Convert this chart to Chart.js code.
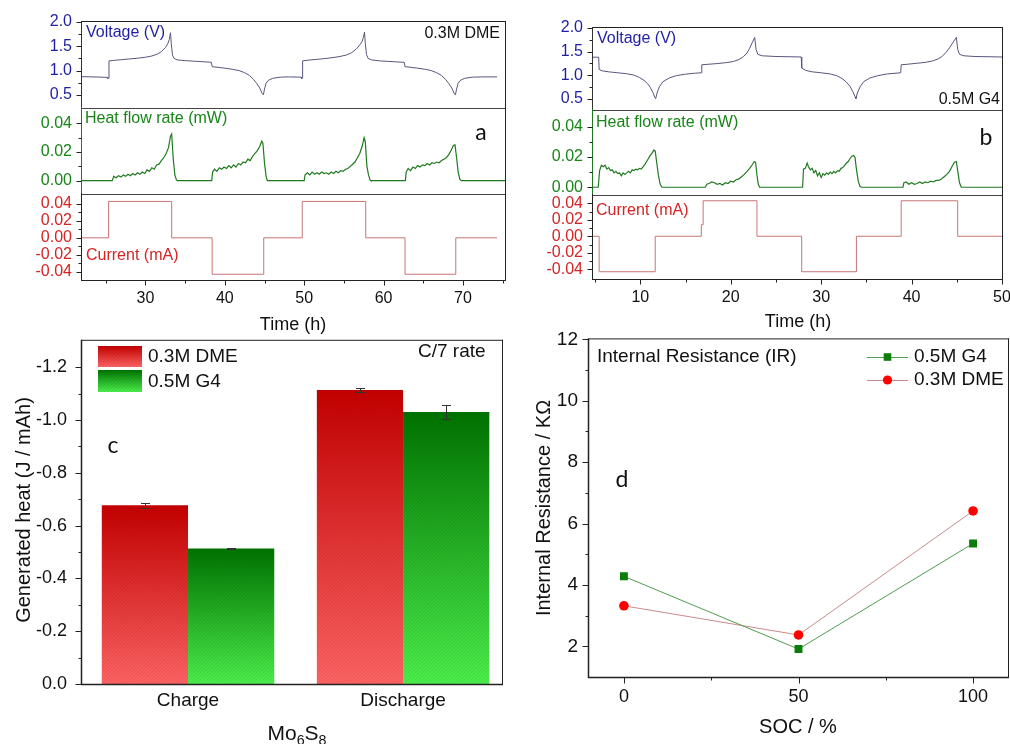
<!DOCTYPE html>
<html><head><meta charset="utf-8">
<title>Mo6S8 calorimetry</title>
<script src="https://cdn.jsdelivr.net/npm/chart.js@4.4.1/dist/chart.umd.min.js"></script>
<style>
html,body{margin:0;padding:0;background:#fff}
body{width:1010px;height:744px;overflow:hidden;position:relative}
canvas{position:absolute;display:block}
</style></head>
<body>
<canvas id="aV"></canvas><canvas id="aH"></canvas><canvas id="aI"></canvas>
<canvas id="bV"></canvas><canvas id="bH"></canvas><canvas id="bI"></canvas>
<canvas id="cBar"></canvas><canvas id="dIR"></canvas>
<script>
// ================= DATA =================
const timeTicksA = [30, 40, 50, 60, 70];
const timeMinorA = [25, 35, 45, 55, 65, 75];
const timeTicksB = [10, 20, 30, 40, 50];
const timeMinorB = [5, 15, 25, 35, 45];
const voltTicks = [0.5, 1.0, 1.5, 2.0];
const voltMinor = [0.75, 1.25, 1.75];
const heatTicks = [0.00, 0.02, 0.04];
const heatMinor = [0.01, 0.03];
const currTicks = [-0.04, -0.02, 0.00, 0.02, 0.04];
const currMinor = [-0.03, -0.01, 0.01, 0.03];

// panel a (0.3M DME)
const voltA_t = [22, 24.5, 25.2, 25.25, 25.35, 25.4, 26, 27, 28, 29,
  30, 30.8, 31.5, 32, 32.5, 32.8, 33, 33.15, 33.25, 33.4,
  33.6, 34, 35, 36, 37, 38.3, 38.4, 39, 40, 41,
  41.8, 42.5, 43.1, 43.6, 44, 44.4, 44.7, 44.85, 45, 45.2,
  45.5, 46, 47, 48, 49.6, 49.65, 49.75, 49.8, 50.5, 51.5,
  52.5, 53.5, 54.5, 55.3, 56, 56.6, 57, 57.3, 57.45, 57.6,
  57.7, 57.85, 58.05, 58.5, 59.5, 60.5, 61.5, 62.6, 62.7, 63.3,
  64.3, 65.3, 66, 66.7, 67.3, 67.8, 68.2, 68.6, 68.9, 69.05,
  69.2, 69.4, 69.7, 70.2, 71.2, 72.5, 74.3];
const voltA_v = [0.875, 0.865, 0.86, 0.84, 0.84, 1.20, 1.21, 1.225, 1.24, 1.255,
  1.275, 1.30, 1.34, 1.39, 1.47, 1.55, 1.64, 1.78, 1.55, 1.32,
  1.25, 1.22, 1.205, 1.195, 1.185, 1.17, 1.08, 1.07, 1.05, 1.025,
  1.0, 0.955, 0.90, 0.82, 0.74, 0.64, 0.53, 0.50, 0.62, 0.74,
  0.80, 0.84, 0.865, 0.87, 0.865, 0.84, 0.84, 1.20, 1.215, 1.23,
  1.245, 1.265, 1.29, 1.32, 1.37, 1.45, 1.53, 1.60, 1.68, 1.79,
  1.55, 1.33, 1.25, 1.22, 1.20, 1.19, 1.18, 1.17, 1.08, 1.07,
  1.05, 1.025, 1.0, 0.955, 0.90, 0.82, 0.74, 0.64, 0.53, 0.50,
  0.62, 0.74, 0.80, 0.84, 0.865, 0.87, 0.87];
const heatA_t = [22, 25.8, 26.0, 26.3, 26.6, 26.9, 27.2, 27.5, 27.8, 28.1,
  28.4, 28.7, 29.0, 29.3, 29.6, 29.9, 30.2, 30.5, 30.8, 31.1,
  31.4, 31.7, 32.0, 32.3, 32.6, 32.9, 33.15, 33.3, 33.5, 33.7,
  33.9, 34.0, 38.35, 38.45, 38.7, 39.0, 39.3, 39.6, 39.9, 40.2,
  40.5, 40.8, 41.1, 41.4, 41.7, 42.0, 42.3, 42.6, 42.9, 43.2,
  43.5, 43.8, 44.1, 44.4, 44.65, 44.8, 45.0, 45.2, 45.35, 50.0,
  50.1, 50.4, 50.7, 51.0, 51.3, 51.6, 51.9, 52.2, 52.5, 52.8,
  53.1, 53.4, 53.7, 54.0, 54.3, 54.6, 54.9, 55.2, 55.5, 55.8,
  56.1, 56.4, 56.7, 57.0, 57.3, 57.55, 57.7, 57.9, 58.1, 58.3,
  58.4, 62.75, 62.85, 63.1, 63.4, 63.7, 64.0, 64.3, 64.6, 64.9,
  65.2, 65.5, 65.8, 66.1, 66.4, 66.7, 67.0, 67.3, 67.6, 67.9,
  68.2, 68.5, 68.8, 69.0, 69.2, 69.4, 69.6, 69.8, 75.3];
const heatA_q = [0, 0, 0.003, 0.002, 0.0035, 0.0025, 0.004, 0.003, 0.0045, 0.0035,
  0.005, 0.004, 0.0055, 0.0045, 0.006, 0.005, 0.0075, 0.0065, 0.009, 0.008,
  0.011, 0.0115, 0.014, 0.016, 0.019, 0.023, 0.031, 0.0325, 0.015, 0.004,
  0.0005, 0, 0, 0.006, 0.008, 0.0065, 0.009, 0.008, 0.0095, 0.0085,
  0.0105, 0.009, 0.011, 0.0095, 0.012, 0.011, 0.013, 0.0125, 0.015, 0.014,
  0.017, 0.019, 0.021, 0.024, 0.0275, 0.026, 0.012, 0.003, 0, 0,
  0.004, 0.0055, 0.004, 0.006, 0.0045, 0.0055, 0.0045, 0.006, 0.005, 0.0055,
  0.0045, 0.006, 0.005, 0.0065, 0.0055, 0.007, 0.0065, 0.008, 0.0085, 0.01,
  0.0115, 0.013, 0.016, 0.019, 0.024, 0.03, 0.027, 0.01, 0.004, 0.0005,
  0, 0, 0.006, 0.0085, 0.007, 0.0095, 0.0085, 0.0105, 0.0095, 0.011,
  0.0105, 0.012, 0.011, 0.0125, 0.012, 0.013, 0.0125, 0.014, 0.015, 0.016,
  0.018, 0.021, 0.0245, 0.025, 0.016, 0.006, 0.001, 0, 0];
const currA_t = [22, 25.35, 33.3, 38.4, 44.9, 49.75, 57.75, 62.7, 69.1, 74.3];
const currA_i = [0, 0.043, 0, -0.043, 0, 0.043, 0, -0.043, 0, 0];

// panel b (0.5M G4)
const voltB_t = [4.77, 5.4, 5.45, 5.8, 6.5, 7.5, 8.5, 9.3, 9.9, 10.4,
  10.8, 11.1, 11.4, 11.6, 11.7, 11.85, 12.1, 12.5, 13.2, 14,
  15, 16, 16.75, 16.8, 17.5, 18.5, 19.5, 20.3, 20.9, 21.4,
  21.8, 22.1, 22.4, 22.65, 22.8, 23.0, 23.5, 25, 27.8, 27.85,
  28.3, 29, 30, 31, 31.7, 32.3, 32.8, 33.2, 33.5, 33.75,
  33.85, 34.0, 34.3, 34.7, 35.4, 36.3, 37.3, 38.8, 38.85, 39.5,
  40.5, 41.5, 42.3, 42.9, 43.4, 43.8, 44.2, 44.6, 44.95, 45.1,
  45.3, 45.8, 47, 50];
const voltB_v = [1.38, 1.38, 1.12, 1.09, 1.07, 1.05, 1.03, 1.0, 0.95, 0.89,
  0.82, 0.74, 0.63, 0.53, 0.50, 0.62, 0.75, 0.86, 0.94, 0.99,
  1.02, 1.04, 1.05, 1.22, 1.23, 1.245, 1.265, 1.29, 1.33, 1.39,
  1.47, 1.57, 1.70, 1.80, 1.55, 1.44, 1.41, 1.395, 1.385, 1.15,
  1.10, 1.07, 1.05, 1.025, 0.99, 0.93, 0.85, 0.76, 0.65, 0.54,
  0.50, 0.62, 0.75, 0.86, 0.94, 0.99, 1.025, 1.05, 1.22, 1.23,
  1.25, 1.27, 1.30, 1.34, 1.40, 1.48, 1.58, 1.70, 1.80, 1.55,
  1.44, 1.41, 1.395, 1.385];
const heatB_t = [4.77, 5.35, 5.5, 5.7, 5.9, 6.1, 6.3, 6.5, 6.7, 6.9,
  7.1, 7.3, 7.5, 7.7, 7.9, 8.1, 8.3, 8.5, 8.7, 8.9,
  9.1, 9.3, 9.5, 9.7, 9.9, 10.1, 10.3, 10.5, 10.7, 10.9,
  11.1, 11.3, 11.5, 11.65, 11.8, 12.0, 12.2, 12.4, 17.2, 17.35,
  17.6, 17.9, 18.2, 18.5, 18.8, 19.1, 19.4, 19.7, 20.0, 20.3,
  20.6, 20.9, 21.2, 21.5, 21.8, 22.1, 22.4, 22.6, 22.75, 22.9,
  23.05, 23.2, 27.95, 28.05, 28.25, 28.45, 28.6, 28.8, 29.0, 29.2,
  29.4, 29.6, 29.8, 30.0, 30.2, 30.4, 30.6, 30.8, 31.0, 31.2,
  31.4, 31.6, 31.8, 32.0, 32.2, 32.4, 32.6, 32.8, 33.0, 33.2,
  33.4, 33.6, 33.75, 33.9, 34.1, 34.3, 34.45, 39.05, 39.15, 39.4,
  39.7, 40.0, 40.3, 40.6, 40.9, 41.2, 41.5, 41.8, 42.1, 42.4,
  42.7, 43.0, 43.3, 43.6, 43.9, 44.2, 44.5, 44.75, 44.95, 45.1,
  45.3, 45.5, 50];
const heatB_q = [0, 0, 0.011, 0.0145, 0.0135, 0.0145, 0.012, 0.013, 0.011, 0.0115,
  0.0095, 0.0105, 0.009, 0.0095, 0.0075, 0.0095, 0.0085, 0.0095, 0.0105, 0.0095,
  0.0115, 0.011, 0.012, 0.0115, 0.0125, 0.012, 0.0135, 0.015, 0.017, 0.019,
  0.021, 0.0225, 0.0245, 0.024, 0.017, 0.008, 0.002, 0, 0, 0.002,
  0.0025, 0.0035, 0.003, 0.002, 0.0025, 0.0015, 0.003, 0.0025, 0.004, 0.0035,
  0.005, 0.0055, 0.007, 0.0085, 0.0105, 0.0125, 0.015, 0.017, 0.0165, 0.008,
  0.002, 0, 0, 0.012, 0.0125, 0.016, 0.0135, 0.0115, 0.0125, 0.0095,
  0.011, 0.0075, 0.0095, 0.0065, 0.009, 0.008, 0.0095, 0.0085, 0.01, 0.009,
  0.0105, 0.0095, 0.011, 0.0105, 0.0125, 0.013, 0.0145, 0.016, 0.017, 0.019,
  0.0205, 0.021, 0.0195, 0.012, 0.004, 0.0005, 0, 0, 0.003, 0.0035,
  0.002, 0.003, 0.002, 0.0025, 0.0035, 0.0025, 0.0035, 0.003, 0.004, 0.0035,
  0.0045, 0.0045, 0.0055, 0.007, 0.0085, 0.0105, 0.014, 0.0165, 0.017, 0.011,
  0.003, 0, 0];
const currB_t = [4.77, 5.45, 11.65, 16.75, 16.95, 22.9, 27.85, 33.9, 38.85, 45.1, 50];
const currB_i = [0, -0.043, 0, 0.014, 0.043, 0, -0.043, 0, 0.043, 0, 0];

// panel c
const phases = ['Charge', 'Discharge'];
const phasePos = [1, 2];
const heatDME = [-0.677, -1.114];
const errDME = [0.010, 0.008];
const heatG4 = [-0.513, -1.030];
const errG4 = [0.002, 0.028];
const heatTicksC = [0, -0.2, -0.4, -0.6, -0.8, -1.0, -1.2];
const heatMinorC = [-0.1, -0.3, -0.5, -0.7, -0.9, -1.1];

// panel d
const soc = [0, 50, 100];
const irG4 = [4.28, 1.91, 5.35];
const irDME = [3.32, 2.37, 6.41];
const socTicks = [0, 50, 100];
const socMinor = [25, 75];
const irTicks = [2, 4, 6, 8, 10, 12];
const irMinor = [3, 5, 7, 9, 11];

// ================= DRAWING =================
const FONT = '"Liberation Sans", Arial, Helvetica, sans-serif';
const LETTER = 'Lato, "Open Sans", sans-serif';
Chart.defaults.font.family = FONT;
const P = 22;
const BLUE = '#1f1fa6', VLINE = '#56567e';
const GTXT = '#178517', GLINE = '#1f7a1f';
const RTXT = '#d42424', RLINE = '#c87474';
const INK = '#111';
const AX = '#222';

const zip = (xs, ys) => xs.map((x, i) => ({x: x, y: ys[i]}));

function place(id, ox, oy, w, h) {
  const cv = document.getElementById(id);
  cv.width = w; cv.height = h;
  cv.style.left = ox + 'px'; cv.style.top = oy + 'px';
  cv.style.width = w + 'px'; cv.style.height = h + 'px';
  return cv;
}

function drawText(c, t, ox, oy) {
  c.save();
  c.fillStyle = t.color || INK;
  const fam = t.family || FONT;
  c.translate(t.x - ox, t.y - oy);
  if (t.rot) c.rotate(t.rot);
  c.textBaseline = t.base || 'middle';
  if (t.parts) {
    let total = 0;
    const ms = t.parts.map(p => {
      const sz = p.sub ? t.size * 0.68 : t.size;
      c.font = sz + 'px ' + fam;
      const w = c.measureText(p.t).width; total += w;
      return {p: p, sz: sz, w: w};
    });
    let x = t.align === 'center' ? -total / 2 : 0;
    c.textAlign = 'left';
    ms.forEach(m => { c.font = m.sz + 'px ' + fam; c.fillText(m.p.t, x, m.p.sub ? t.size * 0.32 : 0); x += m.w; });
  } else {
    c.font = t.size + 'px ' + fam;
    c.textAlign = t.align || 'left';
    c.fillText(t.t, 0, 0);
  }
  c.restore();
}

const deco = {
  id: 'deco',
  afterDraw(chart, args, o) {
    const c = chart.ctx, a = chart.chartArea;
    c.save();
    (o.box || []).forEach(b => {
      const side = b[0];
      c.strokeStyle = b[1]; c.lineWidth = b[2] || 1; c.beginPath();
      if (side === 'top') { c.moveTo(a.left - 1, a.top - 0.5); c.lineTo(a.right + 1, a.top - 0.5); }
      if (side === 'bottom') { c.moveTo(a.left - 1, a.bottom + 0.5); c.lineTo(a.right + 1, a.bottom + 0.5); }
      if (side === 'left') { c.moveTo(a.left - 0.5, a.top - 1); c.lineTo(a.left - 0.5, a.bottom + 1); }
      if (side === 'right') { c.moveTo(a.right + 0.5, a.top - 1); c.lineTo(a.right + 0.5, a.bottom + 1); }
      c.stroke();
    });
    (o.ticks || []).forEach(t => {
      const s = chart.scales[t.axis];
      c.strokeStyle = t.color || AX; c.lineWidth = 1; c.beginPath();
      t.values.forEach(v => {
        const p = Math.round(s.getPixelForValue(v)) + 0.5;
        if (t.axis === 'y') { c.moveTo(a.left - 0.5, p); c.lineTo(a.left - 0.5 - t.len, p); }
        else { c.moveTo(p, a.bottom + 0.5); c.lineTo(p, a.bottom + 0.5 + t.len); }
      });
      c.stroke();
    });
    (o.texts || []).forEach(t => drawText(c, t, o.ox, o.oy));
    c.restore();
  }
};

function strip(id, area, o) {
  const L = 50, B = o.xTicks ? 45 : 0;
  const ox = area[0] - L - P, oy = area[1] - P;
  const w = area[2] - area[0] + L + 2 * P, h = area[3] - area[1] + B + 2 * P;
  const cv = place(id, ox, oy, w, h);
  const ticks = [
    {axis: 'y', values: o.yTicks, len: 5},
    {axis: 'y', values: o.yMinor, len: 3}
  ];
  if (o.xTicks) ticks.push({axis: 'x', values: o.xTicks, len: 5}, {axis: 'x', values: o.xMinor, len: 3});
  return new Chart(cv, {
    type: 'line',
    data: {datasets: [{data: o.data, borderColor: o.line, borderWidth: o.lw || 1, pointRadius: 0,
      tension: 0, fill: false, stepped: o.stepped || false}]},
    options: {
      responsive: false, animation: false, events: [],
      layout: {padding: P},
      plugins: {legend: {display: false}, tooltip: {enabled: false},
        deco: {ox: ox, oy: oy, box: o.box, ticks: ticks, texts: o.texts}},
      scales: {
        x: {type: 'linear', min: o.xmin, max: o.xmax, display: !!o.xTicks,
          afterFit: s => { s.height = B; },
          afterBuildTicks: s => { if (o.xTicks) s.ticks = o.xTicks.map(v => ({value: v})); },
          ticks: {font: {size: 16}, color: INK, padding: 9, autoSkip: false, maxRotation: 0, callback: v => String(v)},
          grid: {display: false, drawTicks: false}, border: {display: false}},
        y: {type: 'linear', min: o.ymin, max: o.ymax,
          afterFit: s => { s.width = L; },
          afterBuildTicks: s => { s.ticks = o.yTicks.map(v => ({value: v})); },
          ticks: {font: {size: 16}, color: o.tc, padding: 10, autoSkip: false, callback: v => Number(v).toFixed(o.dec)},
          grid: {display: false, drawTicks: false}, border: {display: false}}
      }
    },
    plugins: [deco]
  });
}

// ---- panel a ----
strip('aV', [82, 22, 505, 108], {
  xmin: 22, xmax: 75.3, ymin: 0.23, ymax: 2.0, yTicks: voltTicks, yMinor: voltMinor, dec: 1, tc: BLUE,
  data: zip(voltA_t, voltA_v), line: VLINE, lw: 1,
  box: [['top', AX], ['right', AX], ['left', '#333'], ['bottom', '#444']],
  texts: [{t: 'Voltage (V)', x: 86, y: 33, size: 16, color: BLUE},
          {t: '0.3M DME', x: 500, y: 34, size: 16, align: 'right'}]
});
strip('aH', [82, 108, 505, 194], {
  xmin: 22, xmax: 75.3, ymin: -0.0093, ymax: 0.0507, yTicks: heatTicks, yMinor: heatMinor, dec: 2, tc: GTXT,
  data: zip(heatA_t, heatA_q), line: GLINE, lw: 1.2,
  box: [['right', AX], ['left', GLINE], ['bottom', '#444']],
  texts: [{t: 'Heat flow rate (mW)', x: 85, y: 119, size: 16, color: GTXT},
          {t: 'a', x: 481, y: 140, size: 23, family: LETTER, align: 'center', base: 'alphabetic'}]
});
strip('aI', [82, 194, 505, 280], {
  xmin: 22, xmax: 75.3, ymin: -0.0498, ymax: 0.0518, yTicks: currTicks, yMinor: currMinor, dec: 2, tc: RTXT,
  xTicks: timeTicksA, xMinor: timeMinorA,
  data: zip(currA_t, currA_i), line: RLINE, lw: 1, stepped: true,
  box: [['right', AX], ['left', AX], ['bottom', AX]],
  texts: [{t: 'Current (mA)', x: 86, y: 255.5, size: 16, color: RTXT},
          {t: 'Time (h)', x: 293, y: 325, size: 18, align: 'center'}]
});

// ---- panel b ----
strip('bV', [593, 28, 1002, 110], {
  xmin: 4.77, xmax: 50, ymin: 0.26, ymax: 2.0, yTicks: voltTicks, yMinor: voltMinor, dec: 1, tc: BLUE,
  data: zip(voltB_t, voltB_v), line: VLINE, lw: 1,
  box: [['top', AX], ['right', AX], ['left', '#333'], ['bottom', '#444']],
  texts: [{t: 'Voltage (V)', x: 597, y: 39, size: 16, color: BLUE},
          {t: '0.5M G4', x: 1000, y: 100, size: 16, align: 'right'}]
});
strip('bH', [593, 110, 1002, 195], {
  xmin: 4.77, xmax: 50, ymin: -0.0051, ymax: 0.051, yTicks: heatTicks, yMinor: heatMinor, dec: 2, tc: GTXT,
  data: zip(heatB_t, heatB_q), line: GLINE, lw: 1.2,
  box: [['right', AX], ['left', GLINE], ['bottom', '#444']],
  texts: [{t: 'Heat flow rate (mW)', x: 596, y: 122.5, size: 16, color: GTXT},
          {t: 'b', x: 986, y: 145, size: 23, family: LETTER, align: 'center', base: 'alphabetic'}]
});
strip('bI', [593, 195, 1002, 279], {
  xmin: 4.77, xmax: 50, ymin: -0.0518, ymax: 0.050, yTicks: currTicks, yMinor: currMinor, dec: 2, tc: RTXT,
  xTicks: timeTicksB, xMinor: timeMinorB,
  data: zip(currB_t, currB_i), line: RLINE, lw: 1, stepped: true,
  box: [['right', AX], ['left', AX], ['bottom', AX]],
  texts: [{t: 'Current (mA)', x: 596, y: 210.5, size: 16, color: RTXT},
          {t: 'Time (h)', x: 798, y: 322, size: 18, align: 'center'}]
});

// ---- panel c ----
const RED_D = '#c60000', RED_L = '#ff6464', GRN_D = '#007400', GRN_L = '#4cf04c';
function barGrad(dark, light) {
  return ctx => {
    const ch = ctx.chart, ys = ch.scales.y;
    if (!ys || !ctx.parsed) return dark;
    const top = ys.getPixelForValue(ctx.parsed.y), bot = ys.getPixelForValue(0);
    if (!isFinite(top) || !isFinite(bot) || top === bot) return dark;
    const g = ch.ctx.createLinearGradient(0, top, 0, bot);
    g.addColorStop(0, dark); g.addColorStop(1, light);
    return g;
  };
}
function hatch(c, x, y, w, h) {
  c.save(); c.beginPath(); c.rect(x, y, w, h); c.clip();
  c.strokeStyle = 'rgba(0,0,0,0.13)'; c.lineWidth = 0.8; c.beginPath();
  for (let k = -h; k < w + h; k += 3.5) { c.moveTo(x + k, y + h); c.lineTo(x + k + h, y); }
  c.stroke(); c.restore();
}
const barDeco = {
  id: 'barDeco',
  afterDatasetsDraw(chart, args, o) {
    const c = chart.ctx, ys = chart.scales.y;
    c.save();
    chart.data.datasets.forEach((ds, di) => {
      const meta = chart.getDatasetMeta(di);
      meta.data.forEach((el, i) => {
        const x0 = el.x - el.width / 2, y0 = Math.min(el.y, el.base), y1 = Math.max(el.y, el.base);
        hatch(c, x0, y0, el.width, y1 - y0);
        const v = ds.data[i].y, e = ds.errs[i];
        const pa = Math.round(ys.getPixelForValue(v - e)) + 0.5, pb = Math.round(ys.getPixelForValue(v + e)) + 0.5;
        const xc = Math.round(el.x) + 0.5;
        c.strokeStyle = '#333'; c.lineWidth = 1; c.beginPath();
        c.moveTo(xc, pa); c.lineTo(xc, pb);
        c.moveTo(xc - 4.5, pa); c.lineTo(xc + 4.5, pa);
        c.moveTo(xc - 4.5, pb); c.lineTo(xc + 4.5, pb);
        c.stroke();
      });
    });
    c.restore();
  },
  afterDraw(chart, args, o) {
    const c = chart.ctx;
    o.items.forEach(it => {
      const x = it.x - o.ox, y = it.y - o.oy;
      const g = c.createLinearGradient(0, y, 0, y + it.h);
      g.addColorStop(0, it.dark); g.addColorStop(1, it.light);
      c.fillStyle = g; c.fillRect(x, y, it.w, it.h);
      hatch(c, x, y, it.w, it.h);
    });
  }
};
(function () {
  const area = [82, 337, 502, 684], L = 60, B = 45;
  const ox = area[0] - L - P, oy = area[1] - P;
  const cv = place('cBar', ox, oy, area[2] - area[0] + L + 2 * P, area[3] - area[1] + B + 2 * P);
  new Chart(cv, {
    type: 'bar',
    data: {datasets: [
      {label: '0.3M DME', data: zip(phasePos, heatDME), errs: errDME, backgroundColor: barGrad(RED_D, RED_L)},
      {label: '0.5M G4', data: zip(phasePos, heatG4), errs: errG4, backgroundColor: barGrad(GRN_D, GRN_L)}
    ]},
    options: {
      responsive: false, animation: false, events: [],
      layout: {padding: P},
      datasets: {bar: {categoryPercentage: 0.802, barPercentage: 1, borderWidth: 0}},
      plugins: {
        legend: {display: false}, tooltip: {enabled: false},
        deco: {ox: ox, oy: oy,
          box: [['top', AX], ['right', AX], ['left', AX, 1.5], ['bottom', AX, 1.5]],
          ticks: [{axis: 'y', values: heatTicksC, len: 6}, {axis: 'y', values: heatMinorC, len: 3}],
          texts: [
            {t: '0.3M DME', x: 148, y: 357, size: 19},
            {t: '0.5M G4', x: 148, y: 382, size: 19},
            {t: 'C/7 rate', x: 418, y: 352, size: 19},
            {t: 'c', x: 113, y: 453, size: 23, family: LETTER, align: 'center', base: 'alphabetic'},
            {t: 'Generated heat (J / mAh)', x: 24, y: 510, size: 20, rot: -Math.PI / 2, align: 'center'},
            {parts: [{t: 'Mo'}, {t: '6', sub: true}, {t: 'S'}, {t: '8', sub: true}], x: 297, y: 734, size: 21, align: 'center'}
          ]},
        barDeco: {ox: ox, oy: oy, items: [
          {x: 98, y: 346, w: 44, h: 21, dark: RED_D, light: RED_L},
          {x: 98, y: 370, w: 44, h: 22, dark: GRN_D, light: GRN_L}
        ]}
      },
      scales: {
        x: {type: 'linear', min: 0.507, max: 2.46, offset: false,
          afterFit: s => { s.height = B; },
          afterBuildTicks: s => { s.ticks = phasePos.map(v => ({value: v})); },
          ticks: {font: {size: 19}, color: INK, padding: 5, autoSkip: false, maxRotation: 0,
            callback: v => phases[phasePos.indexOf(v)]},
          grid: {display: false, drawTicks: false}, border: {display: false}},
        y: {type: 'linear', reverse: true, min: -1.3, max: 0,
          afterFit: s => { s.width = L; },
          afterBuildTicks: s => { s.ticks = heatTicksC.map(v => ({value: v})); },
          ticks: {font: {size: 18}, color: INK, padding: 15, autoSkip: false, callback: v => Number(v).toFixed(1)},
          grid: {display: false, drawTicks: false}, border: {display: false}}
      }
    },
    plugins: [barDeco, deco]
  });
})();

// ---- panel d ----
const G4_LINE = '#4f9c4f', G4_MK = '#0b7d0b', DME_LINE = '#c98a8a', DME_MK = '#ff0000';
const legendD = {
  id: 'legendD',
  afterDraw(chart, args, o) {
    const c = chart.ctx;
    c.save();
    o.items.forEach(it => {
      const y = it.y - o.oy, x0 = it.x0 - o.ox, x1 = it.x1 - o.ox, xm = (x0 + x1) / 2;
      c.strokeStyle = it.line; c.lineWidth = 1; c.beginPath();
      c.moveTo(x0, Math.round(y) + 0.5); c.lineTo(x1, Math.round(y) + 0.5); c.stroke();
      c.fillStyle = it.mk; c.beginPath();
      if (it.shape === 'rect') c.rect(xm - 3.8, y - 3.8, 7.6, 7.6);
      else c.arc(xm, y, 4.6, 0, Math.PI * 2);
      c.fill();
    });
    c.restore();
  }
};
(function () {
  const area = [589, 339, 1008, 677], L = 50, B = 45;
  const ox = area[0] - L - P, oy = area[1] - P;
  const cv = place('dIR', ox, oy, area[2] - area[0] + L + 2 * P, area[3] - area[1] + B + 2 * P);
  new Chart(cv, {
    type: 'line',
    data: {datasets: [
      {label: '0.5M G4', data: zip(soc, irG4), borderColor: G4_LINE, borderWidth: 1, tension: 0,
        pointStyle: 'rect', pointRadius: 5.6, pointBackgroundColor: G4_MK, pointBorderColor: G4_MK, pointBorderWidth: 0},
      {label: '0.3M DME', data: zip(soc, irDME), borderColor: DME_LINE, borderWidth: 1, tension: 0,
        pointStyle: 'circle', pointRadius: 4.8, pointBackgroundColor: DME_MK, pointBorderColor: DME_MK, pointBorderWidth: 0}
    ]},
    options: {
      responsive: false, animation: false, events: [],
      layout: {padding: P},
      plugins: {
        legend: {display: false}, tooltip: {enabled: false},
        deco: {ox: ox, oy: oy,
          box: [['top', AX], ['right', AX], ['left', AX, 1.5], ['bottom', AX, 1.5]],
          ticks: [{axis: 'y', values: irTicks, len: 6}, {axis: 'y', values: irMinor, len: 3},
                  {axis: 'x', values: socTicks, len: 6}, {axis: 'x', values: socMinor, len: 3}],
          texts: [
            {t: 'Internal Resistance (IR)', x: 597, y: 357, size: 19},
            {t: '0.5M G4', x: 914, y: 357, size: 19},
            {t: '0.3M DME', x: 914, y: 380, size: 19},
            {t: 'd', x: 622, y: 487, size: 23, family: LETTER, align: 'center', base: 'alphabetic'},
            {t: 'Internal Resistance / KΩ', x: 544, y: 508, size: 20, rot: -Math.PI / 2, align: 'center'},
            {t: 'SOC / %', x: 798, y: 727, size: 20, align: 'center'}
          ]},
        legendD: {ox: ox, oy: oy, items: [
          {x0: 867, x1: 908, y: 357, line: G4_LINE, mk: G4_MK, shape: 'rect'},
          {x0: 867, x1: 908, y: 380, line: DME_LINE, mk: DME_MK, shape: 'circle'}
        ]}
      },
      scales: {
        x: {type: 'linear', min: -10, max: 110,
          afterFit: s => { s.height = B; },
          afterBuildTicks: s => { s.ticks = socTicks.map(v => ({value: v})); },
          ticks: {font: {size: 18}, color: INK, padding: 9, autoSkip: false, maxRotation: 0, callback: v => String(v)},
          grid: {display: false, drawTicks: false}, border: {display: false}},
        y: {type: 'linear', min: 1, max: 12,
          afterFit: s => { s.width = L; },
          afterBuildTicks: s => { s.ticks = irTicks.map(v => ({value: v})); },
          ticks: {font: {size: 19}, color: INK, padding: 11, autoSkip: false, callback: v => String(v)},
          grid: {display: false, drawTicks: false}, border: {display: false}}
      }
    },
    plugins: [deco, legendD]
  });
})();
</script>
</body></html>
